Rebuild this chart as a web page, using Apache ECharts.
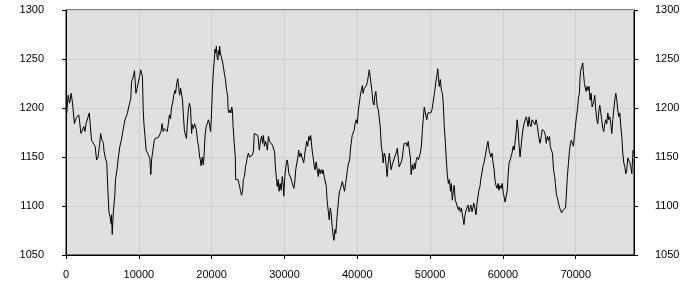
<!DOCTYPE html>
<html>
<head>
<meta charset="utf-8">
<script src="https://cdn.jsdelivr.net/npm/echarts@6/dist/echarts.min.js"></script>
<style>html,body{margin:0;padding:0;background:#fff}#c{width:700px;height:300px}</style>
</head>
<body>
<div id="c"></div>
<script>
var xs = [0,100,300,500,700,900,1150,1400,1600,1750,1900,2050,2300,2450,2600,2750,3000,3200,3350,3500,3750,4000,4200,4400,4600,4750,4950,5150,5200,5400,5600,5750,5900,6050,6200,6250,6350,6500,6700,6800,7000,7200,7400,7600,7800,7950,8100,8250,8450,8600,8750,8900,9000,9150,9300,9400,9500,9600,9750,9950,10100,10250,10400,10500,10600,10700,10850,11000,11200,11350,11500,11650,11750,11900,12100,12250,12500,12700,12850,
13050,13200,13350,13500,13700,13900,14050,14200,14350,14500,14650,14800,14950,15050,15200,15350,15500,15600,15750,15900,16000,16100,16250,16400,16550,16650,16800,16950,17100,17250,17350,17500,17650,17800,17900,18050,18200,18350,18450,18550,18700,18850,18950,19100,19250,19400,19550,19700,19850,19950,20000,20100,20250,20400,20450,20550,20650,20750,20850,20950,21050,21100,21200,21350,21500,21650,21750,21900,22050,22200,22250,22350,22500,22650,22750,22850,22950,23100,23250,23300,23450,23600,23750,23850,23950,24100,24250,24350,24500,24650,24800,24900,25050,25200,25350,25450,25600,25750,25850,
26100,26350,26550,26700,26850,27000,27100,27250,27400,27550,27650,27800,27950,28100,28200,28350,28500,28650,28750,28850,29000,29150,29250,29400,29550,29700,29850,29900,30050,30200,30350,30450,30600,30750,30900,31000,31150,31300,31450,31550,31700,31850,31950,32100,32250,32400,32500,32650,32800,32950,33050,33200,33350,33500,33600,33700,33800,33950,34100,34200,34350,34500,34650,34750,34900,35050,35200,35300,35450,35600,35750,35850,36000,36150,36300,36400,36550,36700,36800,36950,37050,37150,37300,37450,37550,37700,37850,37950,38100,38250,38400,38500,38650,38800,38950,39100,
39170,39300,39450,39600,39700,39850,40000,40150,40250,40400,40550,40700,40800,40950,41100,41250,41400,41500,41650,41800,41900,42000,42150,42300,42400,42550,42650,42750,42900,43000,43150,43300,43450,43550,43700,43850,44000,44100,44250,44400,44550,44650,44800,44950,45100,45200,45350,45500,45650,45750,45900,46050,46200,46300,46450,46600,46750,46850,47000,47150,47300,47400,47550,47700,47850,47950,48100,48250,48400,48500,48650,48800,48950,49050,49200,49300,49450,49550,49700,49850,49950,50100,50250,50400,50550,50650,50800,50950,51050,51150,51250,51400,51550,51700,51800,51950,52100,
52230,52350,52500,52650,52800,52900,53050,53200,53300,53450,53600,53750,53900,54000,54150,54300,54400,54550,54650,54800,54950,55050,55200,55350,55500,55600,55750,55900,56000,56150,56300,56450,56550,56700,56850,56950,57100,57250,57400,57550,57650,57800,57950,58100,58200,58350,58500,58650,58800,58900,59050,59200,59350,59450,59600,59750,59900,60050,60150,60300,60450,60600,60700,60850,61000,61100,61250,61400,61550,61650,61800,61950,62100,62200,62350,62500,62600,62750,62900,63050,63200,63300,63450,63600,63700,63850,64000,64150,64250,64400,64550,64700,64800,64950,65100,
65280,65400,65550,65700,65850,65950,66100,66250,66400,66500,66650,66800,66950,67100,67200,67350,67500,67600,67750,67900,68050,68150,68300,68450,68600,68700,68850,69000,69150,69270,69400,69550,69680,69820,69950,70090,70230,70370,70500,70600,70690,70830,70960,71050,71190,71330,71420,71560,71700,71830,71970,72110,72250,72380,72520,72610,72750,72890,73030,73160,73300,73440,73570,73710,73850,73990,74120,74260,74400,74540,74670,74810,74950,75090,75220,75360,75500,75640,75770,75910,76050,76190,76320,76460,76600,76740,76870,77010,77150,77290,77420,77560,77700,77790,77880,77970];
var ys = [1201,1195,1213,1205,1215,1205,1184,1190,1188,1193,1184,1174,1173,1181,1176,1184,1183,1195,1181,1167,1166,1161,1147,1150,1161,1174,1167,1164,1157,1149,1144,1116,1094,1089,1082,1091,1071,1094,1110,1127,1137,1150,1161,1167,1176,1178,1188,1191,1195,1201,1205,1210,1227,1230,1234,1238,1227,1215,1220,1222,1232,1239,1240,1232,1198,1184,1171,1157,1154,1154,1149,1132,1147,1155,1166,1169,1171,1170,1171,
1176,1184,1176,1179,1178,1176,1184,1193,1189,1201,1205,1213,1218,1215,1225,1230,1229,1213,1220,1218,1208,1195,1178,1172,1169,1184,1198,1205,1200,1174,1183,1179,1184,1186,1178,1167,1161,1150,1147,1141,1150,1142,1150,1172,1181,1184,1188,1184,1176,1188,1198,1218,1239,1252,1260,1256,1263,1252,1249,1259,1254,1263,1256,1251,1247,1240,1235,1229,1218,1212,1200,1195,1198,1195,1201,1198,1181,1164,1150,1127,1125,1127,1123,1123,1116,1111,1115,1127,1130,1140,1145,1150,1154,1150,1150,1150,1152,1157,1174,
1174,1172,1157,1166,1171,1164,1172,1161,1166,1162,1157,1171,1166,1164,1164,1162,1161,1155,1140,1132,1120,1127,1115,1123,1116,1130,1120,1110,1130,1140,1147,1144,1133,1132,1128,1125,1121,1118,1127,1137,1144,1150,1157,1150,1154,1150,1147,1144,1154,1161,1166,1161,1171,1167,1172,1171,1157,1149,1140,1137,1145,1137,1130,1138,1133,1137,1133,1137,1130,1128,1120,1106,1096,1086,1098,1093,1079,1069,1065,1076,1072,1082,1096,1108,1115,1118,1120,1125,1123,1115,1123,1128,1137,1144,1147,1161,
1164,1172,1174,1178,1184,1188,1184,1198,1203,1212,1218,1223,1215,1220,1218,1223,1227,1232,1239,1239,1237,1218,1206,1203,1212,1217,1208,1201,1198,1191,1181,1161,1154,1144,1154,1150,1138,1130,1144,1154,1155,1137,1142,1144,1149,1147,1154,1159,1147,1140,1138,1145,1150,1157,1164,1162,1164,1161,1166,1157,1149,1132,1142,1137,1144,1138,1147,1150,1147,1150,1154,1161,1179,1188,1201,1203,1191,1188,1195,1196,1193,1195,1198,1205,1213,1218,1227,1234,1240,1232,1222,1229,1218,1215,1205,1181,1164,
1147,1133,1123,1127,1115,1123,1106,1116,1121,1106,1103,1099,1096,1099,1094,1098,1093,1086,1081,1091,1096,1098,1101,1094,1098,1101,1094,1099,1103,1098,1091,1103,1104,1116,1120,1127,1133,1140,1144,1150,1154,1161,1166,1157,1154,1150,1154,1144,1137,1127,1121,1118,1123,1116,1121,1118,1123,1113,1110,1104,1103,1116,1130,1144,1147,1150,1154,1161,1157,1164,1174,1188,1178,1164,1150,1161,1169,1178,1184,1184,1191,1188,1181,1191,1184,1181,1188,1189,1188,1183,1188,1183,1181,1169,1164,
1172,1178,1178,1176,1171,1164,1171,1167,1171,1161,1157,1154,1137,1130,1123,1111,1108,1104,1099,1096,1093,1091,1096,1094,1098,1110,1130,1144,1157,1164,1167,1166,1161,1172,1181,1191,1198,1210,1215,1232,1239,1242,1246,1237,1225,1227,1217,1222,1218,1222,1208,1215,1201,1200,1208,1213,1198,1188,1184,1196,1203,1195,1188,1179,1176,1184,1188,1184,1195,1188,1191,1184,1174,1188,1198,1208,1215,1208,1198,1191,1195,1181,1171,1154,1144,1140,1133,1137,1149,1150,1144,1140,1133,1147,1157,1154];
var yTicks = [1050,1100,1150,1200,1250,1300];
var xTicks = [0,10000,20000,30000,40000,50000,60000,70000];

var pts = xs.map(function(x,i){return [x, ys[i]];});
var chart = echarts.init(document.getElementById('c'), null, {renderer:'canvas'});
var font = {fontFamily:'Liberation Sans', fontSize:11, color:'#000'};
function plain(v){ return String(v); }
function yAxis(pos, margin){
  return {
    type:'value', position:pos, min:yTicks[0], max:yTicks[yTicks.length-1], interval:50,
    axisLine:{show:true, lineStyle:{color:'#000', width:1}},
    axisTick:{show:true, length:4, lineStyle:{color:'#000'}},
    axisLabel:Object.assign({margin:margin, formatter:plain}, font),
    splitLine:{show:pos==='left', lineStyle:{color:'#cfcfcf', width:1}}
  };
}
chart.setOption({
  animation:false,
  backgroundColor:'#fff',
  grid:{left:66, right:66, top:10, bottom:45, show:true, backgroundColor:'#e0e0e0', borderColor:'#000', borderWidth:1},
  xAxis:{
    type:'value', min:xTicks[0], max:78000, interval:10000,
    axisLine:{show:true, onZero:false, lineStyle:{color:'#000', width:1}},
    axisTick:{show:true, length:4, lineStyle:{color:'#000'}},
    axisLabel:Object.assign({margin:14, showMaxLabel:false, formatter:plain}, font),
    splitLine:{show:true, lineStyle:{color:'#cfcfcf', width:1}}
  },
  yAxis:[yAxis('left',22), yAxis('right',21)],
  series:[{
    type:'line', data:pts, showSymbol:false, symbol:'none',
    lineStyle:{color:'#000', width:1}, yAxisIndex:0
  }]
});
</script>
</body>
</html>
